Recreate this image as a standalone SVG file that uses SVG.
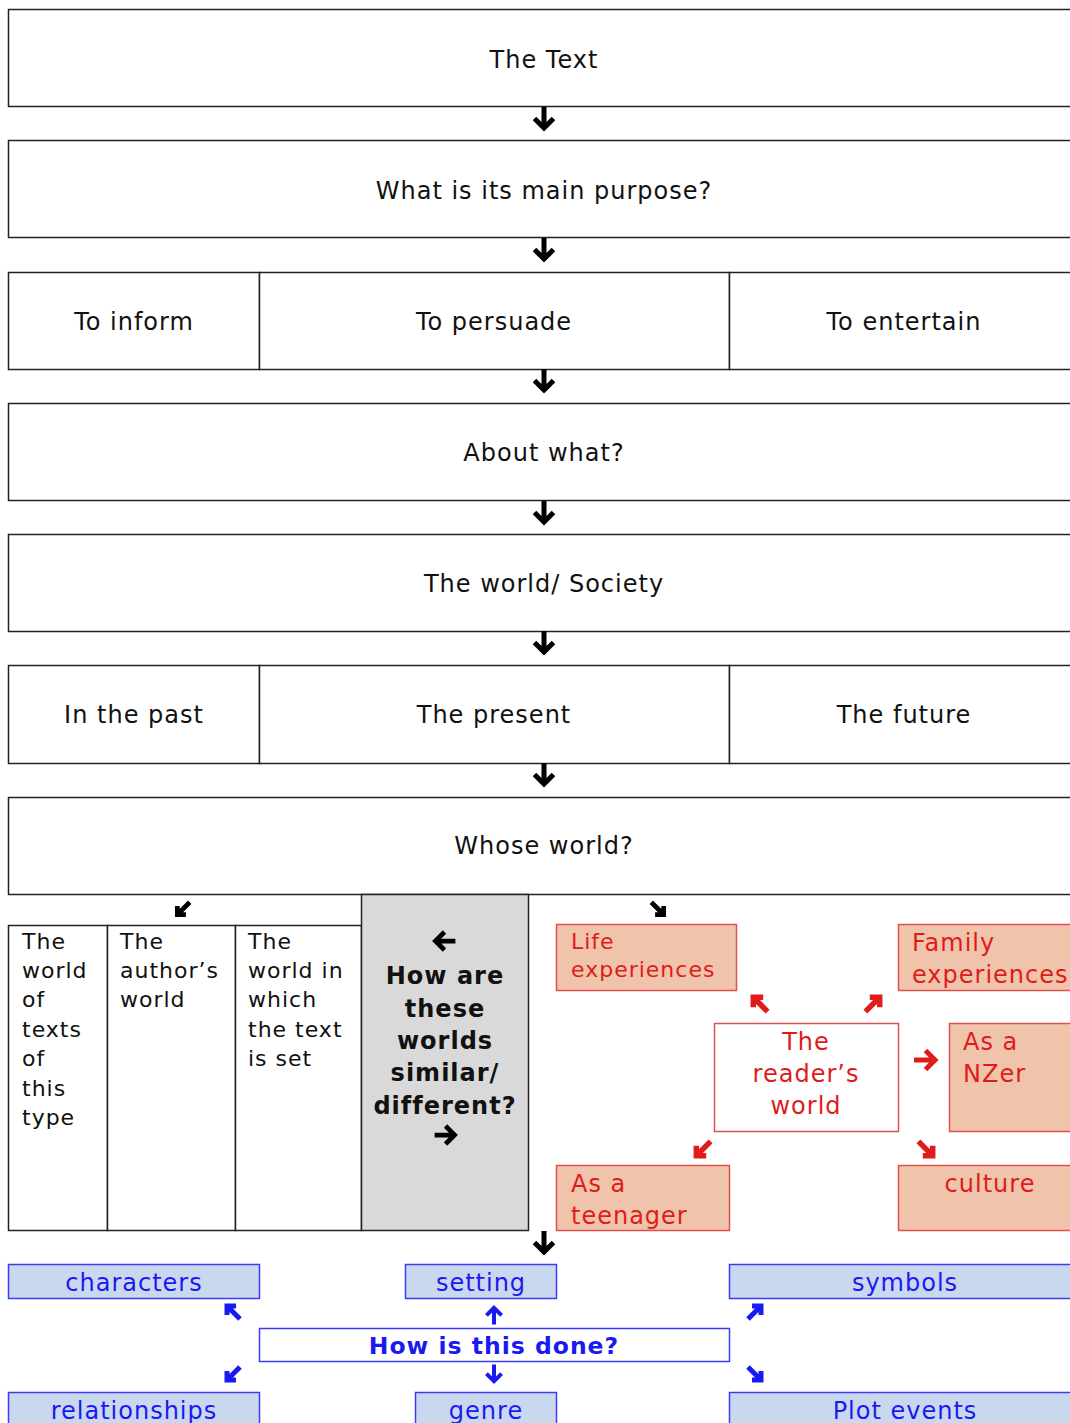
<svg xmlns="http://www.w3.org/2000/svg" xmlns:xlink="http://www.w3.org/1999/xlink" width="1070" height="1423" viewBox="0 0 1070 1423">
<style>
text{font-family:"DejaVu Sans","Verdana",sans-serif;letter-spacing:1px}
.m{font-size:24px;fill:#111;text-anchor:middle}
.l{font-size:22px;fill:#111}
.g{font-size:24px;font-weight:bold;fill:#111;text-anchor:middle}
.bx{fill:#fff;stroke:#222;stroke-width:1.5}
.rb{fill:#f0c3ab;stroke:#e05050;stroke-width:1.5}
.rw{fill:#fff;stroke:#e05050;stroke-width:1.5}
.rt{font-size:22px;fill:#e01b1b}
.bb{fill:#c9d8ef;stroke:#3c3cf5;stroke-width:1.5}
.bw{fill:#fff;stroke:#3c3cf5;stroke-width:1.5}
.bt{font-size:24px;fill:#1a1af0;text-anchor:middle}
</style>
<defs>
<g id="ad"><path d="M0,-12V9M-9.5,-0.5L0,9L9.5,-0.5" fill="none" stroke-width="5" stroke-linejoin="miter"/></g>
<g id="dg"><path d="M-7,-2V7H2M-7,7L6,-6" fill="none" stroke-width="5" stroke-linejoin="miter"/></g>
</defs>

<g id="n1"><rect class="bx" x="8.5" y="9.5" width="1070" height="97"/><text class="m" x="544" y="68">The Text</text></g>
<g id="n2"><rect class="bx" x="8.5" y="140.5" width="1070" height="97"/><text class="m" x="544" y="199">What is its main purpose?</text></g>
<g id="n3"><rect class="bx" x="8.5" y="272.5" width="251" height="97"/><text class="m" x="134" y="330">To inform</text></g>
<g id="n4"><rect class="bx" x="259.5" y="272.5" width="470" height="97"/><text class="m" x="494" y="330">To persuade</text></g>
<g id="n5"><rect class="bx" x="729.5" y="272.5" width="350" height="97"/><text class="m" x="904" y="330">To entertain</text></g>
<g id="n6"><rect class="bx" x="8.5" y="403.5" width="1070" height="97"/><text class="m" x="544" y="461">About what?</text></g>
<g id="n7"><rect class="bx" x="8.5" y="534.5" width="1070" height="97"/><text class="m" x="544" y="592">The world/ Society</text></g>
<g id="n8"><rect class="bx" x="8.5" y="665.5" width="251" height="98"/><text class="m" x="134" y="723">In the past</text></g>
<g id="n9"><rect class="bx" x="259.5" y="665.5" width="470" height="98"/><text class="m" x="494" y="723">The present</text></g>
<g id="n10"><rect class="bx" x="729.5" y="665.5" width="350" height="98"/><text class="m" x="904" y="723">The future</text></g>
<g id="n11"><rect class="bx" x="8.5" y="797.5" width="1070" height="97"/><text class="m" x="544" y="854">Whose world?</text></g>

<g id="n12"><rect class="bx" x="8.5" y="925.5" width="99" height="305"/>
<text class="l" x="22" y="949">The</text><text class="l" x="22" y="978">world</text><text class="l" x="22" y="1007">of</text><text class="l" x="22" y="1037">texts</text><text class="l" x="22" y="1066">of</text><text class="l" x="22" y="1096">this</text><text class="l" x="22" y="1125">type</text></g>
<g id="n13"><rect class="bx" x="107.5" y="925.5" width="128" height="305"/>
<text class="l" x="120" y="949">The</text><text class="l" x="120" y="978">author’s</text><text class="l" x="120" y="1007">world</text></g>
<g id="n14"><rect class="bx" x="235.5" y="925.5" width="126" height="305"/>
<text class="l" x="248" y="949">The</text><text class="l" x="248" y="978">world in</text><text class="l" x="248" y="1007">which</text><text class="l" x="248" y="1037">the text</text><text class="l" x="248" y="1066">is set</text></g>
<g id="n15"><rect x="361.5" y="894.5" width="167" height="336" fill="#d9d9d9" stroke="#222" stroke-width="1.5"/>
<text class="g" x="445" y="984">How are</text><text class="g" x="445" y="1017">these</text><text class="g" x="445" y="1049">worlds</text><text class="g" x="445" y="1081">similar/</text><text class="g" x="445" y="1114">different?</text></g>

<g id="n16"><rect class="rb" x="556.5" y="924.5" width="180" height="66"/><text class="rt" x="571" y="949">Life</text><text class="rt" x="571" y="977">experiences</text></g>
<g id="n17"><rect class="rb" x="898.5" y="924.5" width="180" height="66"/><text class="rt" x="912" y="951" style="font-size:24px">Family</text><text class="rt" x="912" y="983" style="font-size:24px">experiences</text></g>
<g id="n18"><rect class="rw" x="714.5" y="1023.5" width="184" height="108"/><text class="rt" x="806" y="1050" text-anchor="middle" style="font-size:24px">The</text><text class="rt" x="806" y="1082" text-anchor="middle" style="font-size:24px">reader’s</text><text class="rt" x="806" y="1114" text-anchor="middle" style="font-size:24px">world</text></g>
<g id="n19"><rect class="rb" x="949.5" y="1023.5" width="130" height="108"/><text class="rt" x="963" y="1050" style="font-size:24px">As a</text><text class="rt" x="963" y="1082" style="font-size:24px">NZer</text></g>
<g id="n20"><rect class="rb" x="556.5" y="1165.5" width="173" height="65"/><text class="rt" x="571" y="1192" style="font-size:24px">As a</text><text class="rt" x="571" y="1224" style="font-size:24px">teenager</text></g>
<g id="n21"><rect class="rb" x="898.5" y="1165.5" width="180" height="65"/><text class="rt" x="990" y="1192" text-anchor="middle" style="font-size:24px">culture</text></g>

<g id="n22"><rect class="bb" x="8.5" y="1264.5" width="251" height="34"/><text class="bt" x="134" y="1291">characters</text></g>
<g id="n23"><rect class="bb" x="405.5" y="1264.5" width="151" height="34"/><text class="bt" x="481" y="1291">setting</text></g>
<g id="n24"><rect class="bb" x="729.5" y="1264.5" width="350" height="34"/><text class="bt" x="905" y="1291">symbols</text></g>
<g id="n25"><rect class="bw" x="259.5" y="1328.5" width="470" height="33"/><text class="bt" x="494" y="1354" style="font-size:23.5px;font-weight:bold">How is this done?</text></g>
<g id="n26"><rect class="bb" x="8.5" y="1392.5" width="251" height="40"/><text class="bt" x="134" y="1419">relationships</text></g>
<g id="n27"><rect class="bb" x="415.5" y="1392.5" width="141" height="40"/><text class="bt" x="486" y="1419">genre</text></g>
<g id="n28"><rect class="bb" x="729.5" y="1392.5" width="350" height="40"/><text class="bt" x="905" y="1419">Plot events</text></g>

<g id="connectors">
<g stroke="#000">
<use xlink:href="#ad" href="#ad" transform="translate(544,119)"/>
<use xlink:href="#ad" href="#ad" transform="translate(544,250)"/>
<use xlink:href="#ad" href="#ad" transform="translate(544,381)"/>
<use xlink:href="#ad" href="#ad" transform="translate(544,513)"/>
<use xlink:href="#ad" href="#ad" transform="translate(544,643)"/>
<use xlink:href="#ad" href="#ad" transform="translate(544,775)"/>
<use xlink:href="#ad" href="#ad" transform="translate(544,1243)"/>
<use xlink:href="#dg" href="#dg" transform="translate(184,908) scale(0.95)"/>
<use xlink:href="#dg" href="#dg" transform="translate(657,908) rotate(-90) scale(0.95)"/>
<use xlink:href="#ad" href="#ad" transform="translate(444,941) rotate(90) scale(0.95)"/>
<use xlink:href="#ad" href="#ad" transform="translate(446,1135) rotate(-90) scale(0.95)"/>
</g>
<g stroke="#e01b1b">
<use xlink:href="#dg" href="#dg" transform="translate(761,1005) rotate(90) scale(1.1)"/>
<use xlink:href="#dg" href="#dg" transform="translate(872,1005) rotate(180) scale(1.1)"/>
<use xlink:href="#ad" href="#ad" transform="translate(926,1060) rotate(-90)"/>
<use xlink:href="#dg" href="#dg" transform="translate(704,1148) scale(1.1)"/>
<use xlink:href="#dg" href="#dg" transform="translate(925,1148) rotate(-90) scale(1.1)"/>
</g>
<g stroke="#1a1af0">
<use xlink:href="#dg" href="#dg" transform="translate(234,1313) rotate(90)"/>
<use xlink:href="#ad" href="#ad" transform="translate(494,1315) rotate(180) scale(0.8)"/>
<use xlink:href="#dg" href="#dg" transform="translate(754,1313) rotate(180)"/>
<use xlink:href="#dg" href="#dg" transform="translate(234,1373)"/>
<use xlink:href="#ad" href="#ad" transform="translate(494,1374) scale(0.8)"/>
<use xlink:href="#dg" href="#dg" transform="translate(754,1373) rotate(-90)"/>
</g>
</g>
</svg>
